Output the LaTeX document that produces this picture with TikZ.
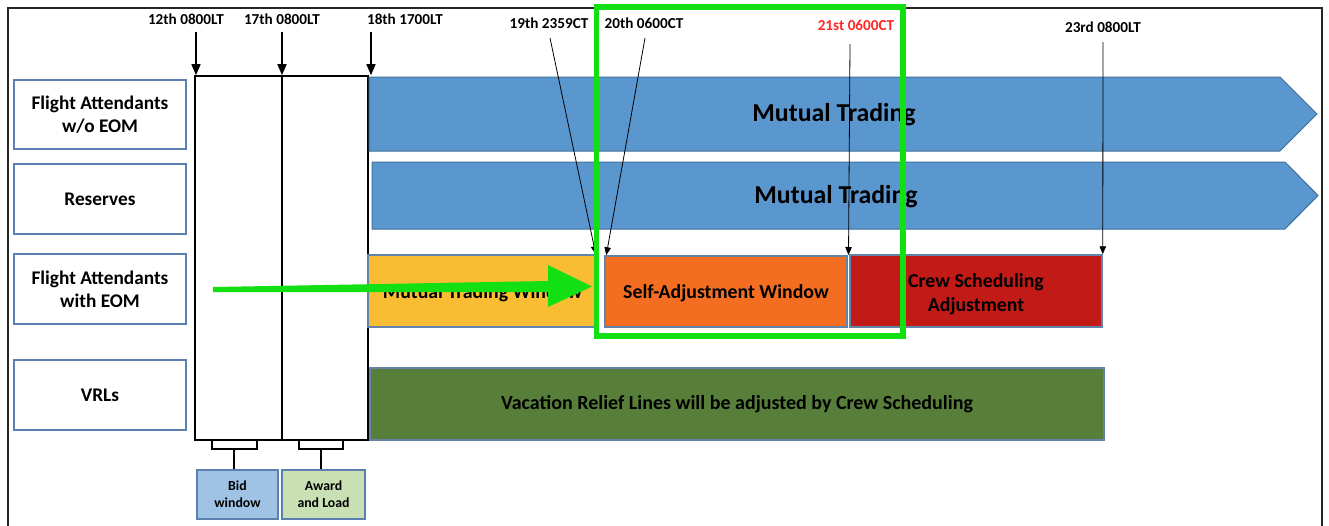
\documentclass[tikz,border=0pt]{standalone}
\usepackage{fontspec}
\setmainfont{Carlito}
\usetikzlibrary{arrows.meta}
\definecolor{bandblue}{HTML}{5B97CF}
\definecolor{bandedge}{HTML}{41719C}
\definecolor{lbledge}{HTML}{5A7FB0}
\definecolor{boxedge}{HTML}{6483A8}
\definecolor{ywin}{HTML}{F9BD33}
\definecolor{owin}{HTML}{F46E21}
\definecolor{rwin}{HTML}{C11A17}
\definecolor{vrlgreen}{HTML}{577F39}
\definecolor{bidblue}{HTML}{9FC3E5}
\definecolor{awardgreen}{HTML}{C8E0B4}
\definecolor{hlgreen}{HTML}{12E012}
\definecolor{redtxt}{HTML}{FF2626}
\tikzset{
  lbl/.style={draw=lbledge, line width=2pt, fill=white, minimum width=172pt, align=center, font=\bfseries\fontsize{19.3}{23}\selectfont, inner sep=0pt},
  col/.style={draw=black, line width=1.6pt, fill=white, minimum height=364pt, inner sep=0pt},
  band/.style={draw=bandedge, line width=1pt, fill=bandblue},
  bandtxt/.style={font=\bfseries\fontsize{25.8}{30}\selectfont, inner sep=0pt},
  winbox/.style={draw=boxedge, line width=1.5pt, align=center, font=\bfseries\fontsize{19.8}{24}\selectfont, inner sep=0pt},
  wintxt/.style={align=center, font=\bfseries\fontsize{19.8}{24}\selectfont, inner sep=0pt},
  smallbox/.style={draw=lbledge, line width=2pt, align=center, minimum width=81pt, minimum height=49pt, font=\bfseries\fontsize{13.8}{17}\selectfont, inner sep=0pt},
  toplbl/.style={font=\bfseries\fontsize{15.2}{18}\selectfont, inner sep=0pt},
  thickarr/.style={line width=1.5pt, -{Triangle[width=9pt,length=11pt]}},
  thinarr/.style={line width=0.8pt, -{Triangle[width=6.5pt,length=8pt]}},
  brk/.style={line width=1.5pt}
}
\begin{document}
\begin{tikzpicture}[x=1pt,y=-1pt]
\useasboundingbox (0,0) rectangle (1329,525);
\fill[white] (0,0) rectangle (1329,525);
% outer frame
\draw[line width=1.3pt, black!85] (8,8) rectangle (1322,545);

% left label boxes
\node[lbl, minimum height=69pt] (fa) at (100,114.5) {Flight Attendants\\w/o EOM};
\node[lbl, minimum height=70pt] (res) at (100,199) {Reserves};
\node[lbl, minimum height=70pt] (faeom) at (100,289) {Flight Attendants\\with EOM};
\node[lbl, minimum height=70pt] (vrl) at (100,395) {VRLs};

% bid/award columns
\node[col, minimum width=87pt] (bidcol) at (238.5,258) {};
\node[col, minimum width=86pt] (awcol) at (325,258) {};

% blue bands
\draw[band] (369,77) -- (1280,77) -- (1317,114) -- (1280,151) -- (369,151) -- cycle;
\node[bandtxt] (band1t) at (834,115) {Mutual Trading};
\draw[band] (372,162) -- (1285,162) -- (1318,195.5) -- (1285,229) -- (372,229) -- cycle;
\node[bandtxt] (band2t) at (836,197) {Mutual Trading};

% row 3 windows
\node[winbox, fill=ywin, minimum width=229pt, minimum height=72pt] (ywin) at (482.5,291) {};
\node[wintxt] (ywint) at (482.5,293) {Mutual Trading Window};
\node[winbox, fill=owin, minimum width=242pt, minimum height=71pt] (owin) at (726,291.5) {};
\node[wintxt] (owint) at (726,293.5) {Self-Adjustment Window};
\node[winbox, fill=rwin, minimum width=252pt, minimum height=72pt] (rwin) at (976,291) {};
\node[wintxt] (rwint) at (976,294) {Crew Scheduling\\Adjustment};

% VRL bar
\node[winbox, fill=vrlgreen, minimum width=734pt, minimum height=72pt, font=\bfseries\fontsize{20}{22}\selectfont] (vrlbar) at (737,404) {Vacation Relief Lines will be adjusted by Crew Scheduling};

% bid and award boxes
\node[smallbox, fill=bidblue] (bid) at (237.5,494.5) {Bid\\window};
\node[smallbox, fill=awardgreen, minimum width=83pt] (award) at (323.5,494.5) {Award\\and Load};

% brackets
\coordinate (b1) at (234,449);
\coordinate (b2) at (321,449);
\draw[brk] (212,441) -- (212,449) -- (257,449) -- (257,441);
\draw[brk] (b1) -- (b1 |- bid.north);
\draw[brk] (299,441) -- (299,449) -- (343,449) -- (343,441);
\draw[brk] (b2) -- (b2 |- award.north);

% top labels
\node[toplbl] (l12) at (186,19.5) {12th 0800LT};
\node[toplbl] (l17) at (282,19.5) {17th 0800LT};
\node[toplbl] (l18) at (405,19.5) {18th 1700LT};
\node[toplbl] (l19) at (549,23) {19th 2359CT};
\node[toplbl] (l20) at (644,23) {20th 0600CT};
\node[toplbl, text=redtxt] (l21) at (856,25.5) {21st 0600CT};
\node[toplbl] (l23) at (1103,27) {23rd 0800LT};

\coordinate (s12) at (196,32);
\coordinate (s17) at (282,32);
\coordinate (s18) at (371,32);
\draw[thickarr] (s12) -- (s12 |- bidcol.north);
\draw[thickarr] (s17) -- (s17 |- bidcol.north);
\draw[thickarr] (s18) -- (s18 |- bidcol.north);

\coordinate (s19) at (550,38);
\coordinate (s20) at (645,38);
\coordinate (s21) at (850,44);
\coordinate (s23) at (1103,42);
\draw[thinarr] (s19) -- ([xshift=-2pt]ywin.north east);
\draw[thinarr] (s20) -- ([xshift=2pt]owin.north west);
\draw[thinarr] (s21) -- (848.5,255);
\draw[thinarr] (s23) -- (rwin.north east);

% green highlight arrow
\coordinate (gtail) at (213,289.5);
\coordinate (gtip) at (592,286.5);
\fill[hlgreen] (213,287) -- (548,281) -- (548,265) -- (gtip) -- (548,307) -- (548,292) -- (213,292) -- cycle;

% green highlight rectangle
\draw[hlgreen, line width=5.5pt] (596.5,7) rectangle (903,336);
\end{tikzpicture}
\end{document}
